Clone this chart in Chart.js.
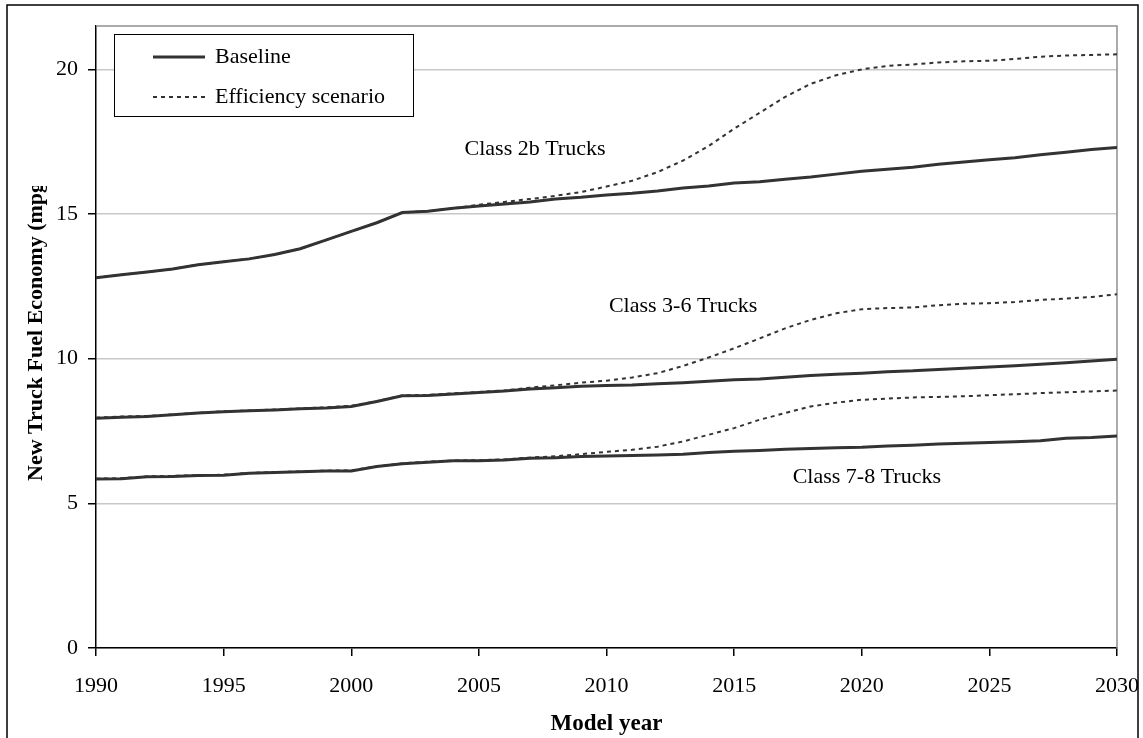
<!DOCTYPE html>
<html>
<head>
<meta charset="utf-8">
<script src="https://cdn.jsdelivr.net/npm/chart.js"></script>
<style>
  html, body { margin: 0; padding: 0; background: #fff; }
  #wrap { width: 1143px; height: 738px; position: relative; }
</style>
</head>
<body>
<div id="wrap"><canvas id="fuel_chart" width="1143" height="738"></canvas></div>
<script>
// model years 1990..2030
let years = [];
for (let y = 1990; y <= 2030; y++) years.push(y);

let class2b_base = [12.8,12.9,13.0,13.1,13.25,13.35,13.45,13.6,13.8,14.1,14.4,14.7,15.05,15.1,15.2,15.28,15.35,15.42,15.52,15.58,15.66,15.72,15.8,15.9,15.97,16.07,16.12,16.2,16.28,16.38,16.48,16.55,16.62,16.72,16.8,16.88,16.95,17.05,17.14,17.23,17.3];
let class2b_eff = [12.8,12.9,13.0,13.1,13.25,13.35,13.45,13.6,13.8,14.1,14.4,14.7,15.05,15.1,15.2,15.32,15.42,15.52,15.63,15.76,15.95,16.15,16.45,16.85,17.35,17.95,18.5,19.05,19.5,19.8,20.0,20.12,20.17,20.24,20.28,20.3,20.36,20.44,20.48,20.5,20.52];
let class36_base = [7.94,7.98,8.0,8.06,8.12,8.17,8.2,8.23,8.27,8.3,8.35,8.52,8.72,8.73,8.78,8.83,8.88,8.95,9.0,9.05,9.07,9.09,9.13,9.17,9.22,9.27,9.3,9.36,9.42,9.46,9.5,9.55,9.58,9.63,9.67,9.71,9.76,9.81,9.86,9.92,9.98];
let class36_eff = [7.96,8.0,8.02,8.07,8.13,8.18,8.21,8.24,8.28,8.32,8.37,8.53,8.73,8.75,8.8,8.85,8.9,9.0,9.08,9.17,9.24,9.35,9.5,9.75,10.04,10.36,10.7,11.05,11.34,11.57,11.71,11.75,11.77,11.85,11.9,11.92,11.96,12.03,12.08,12.13,12.23];
let class78_base = [5.84,5.85,5.92,5.93,5.96,5.97,6.04,6.07,6.09,6.12,6.12,6.27,6.37,6.42,6.47,6.47,6.5,6.56,6.58,6.62,6.64,6.65,6.67,6.7,6.76,6.8,6.83,6.87,6.9,6.92,6.94,6.98,7.01,7.05,7.08,7.1,7.13,7.16,7.25,7.28,7.33];
let class78_eff = [5.85,5.87,5.93,5.95,5.97,5.99,6.05,6.08,6.1,6.13,6.14,6.28,6.38,6.44,6.48,6.49,6.52,6.58,6.63,6.7,6.78,6.85,6.96,7.14,7.37,7.6,7.89,8.12,8.35,8.48,8.58,8.62,8.66,8.68,8.7,8.74,8.77,8.81,8.84,8.87,8.9];

let x_ticks = [1990,1995,2000,2005,2010,2015,2020,2025,2030];
let y_ticks = [0,5,10,15,20];

let legend_names = ['Baseline','Efficiency scenario'];
let class_names = ['Class 2b Trucks','Class 3-6 Trucks','Class 7-8 Trucks'];
let class_label_year = [2007.2, 2013.0, 2020.2];
let class_label_value = [17.25, 11.82, 5.92];

const x_title = 'Model year';
const y_title = 'New Truck Fuel Economy (mpg)';

const LINE_COLOR = '#333333';
const FONT = '"Liberation Serif", "Times New Roman", serif';

function to_points(vals){
    let pts = [];
    for (let i = 0; i < years.length; i++) pts.push({x: years[i], y: vals[i]});
    return pts;
}

function solid(vals){
    return {label: legend_names[0], data: to_points(vals), borderColor: LINE_COLOR,
        borderWidth: 3, pointRadius: 0, tension: 0, fill: false, order: 1};
}
function dotted(vals){
    return {label: legend_names[1], data: to_points(vals), borderColor: LINE_COLOR,
        borderWidth: 2, borderDash: [4,4], pointRadius: 0, tension: 0, fill: false, order: 0};
}

// frame around the whole picture, grey top/right plot border
const framePlugin = {
    id: 'frame',
    beforeDatasetsDraw(chart){
        const ctx = chart.ctx, a = chart.chartArea;
        ctx.save();
        ctx.strokeStyle = '#909090';
        ctx.lineWidth = 1.5;
        ctx.beginPath();
        ctx.moveTo(a.left, a.top);
        ctx.lineTo(a.right, a.top);
        ctx.lineTo(a.right, a.bottom);
        ctx.stroke();
        ctx.restore();
    },
    afterDraw(chart){
        const ctx = chart.ctx;
        ctx.save();
        ctx.strokeStyle = '#000';
        ctx.lineWidth = 1.5;
        ctx.strokeRect(7, 5, 1131, 740);
        ctx.restore();
    }
};

// boxed legend inside plot, class labels, clipped y title
const notesPlugin = {
    id: 'notes',
    afterDraw(chart){
        const ctx = chart.ctx;
        const xs = chart.scales.x, ys = chart.scales.y;
        ctx.save();

        // legend box
        ctx.fillStyle = '#fff';
        ctx.fillRect(114, 34, 299, 82);
        ctx.strokeStyle = '#000';
        ctx.lineWidth = 1;
        ctx.strokeRect(114.5, 34.5, 299, 82);

        ctx.strokeStyle = LINE_COLOR;
        ctx.lineWidth = 3;
        ctx.beginPath(); ctx.moveTo(153, 57); ctx.lineTo(205, 57); ctx.stroke();
        ctx.lineWidth = 2;
        ctx.setLineDash([4,4]);
        ctx.beginPath(); ctx.moveTo(153, 97); ctx.lineTo(207, 97); ctx.stroke();
        ctx.setLineDash([]);

        ctx.fillStyle = '#000';
        ctx.font = '22px ' + FONT;
        ctx.textAlign = 'left';
        ctx.textBaseline = 'middle';
        ctx.fillText(legend_names[0], 215, 57);
        ctx.fillText(legend_names[1], 215, 97);

        // class labels
        ctx.textAlign = 'center';
        for (let i = 0; i < class_names.length; i++){
            ctx.fillText(class_names[i], xs.getPixelForValue(class_label_year[i]), ys.getPixelForValue(class_label_value[i]));
        }

        // y title, cut off at the top like the original
        ctx.beginPath();
        ctx.rect(0, 186, 90, 552);
        ctx.clip();
        ctx.translate(36, 481);
        ctx.rotate(-Math.PI / 2);
        ctx.font = 'bold 22px ' + FONT;
        ctx.textAlign = 'left';
        ctx.fillText(y_title, 0, 0);
        ctx.restore();
    }
};

const graph = document.getElementById('fuel_chart').getContext('2d');

new Chart(graph, {
    type: 'line',
    data: {
        datasets: [
            solid(class2b_base), dotted(class2b_eff),
            solid(class36_base), dotted(class36_eff),
            solid(class78_base), dotted(class78_eff)
        ]
    },
    options: {
        responsive: false,
        animation: false,
        layout: { padding: { top: 26, right: 26, left: 0, bottom: 0 } },
        plugins: { legend: { display: false }, tooltip: { enabled: false } },
        scales: {
            x: {
                type: 'linear',
                min: 1990,
                max: 2030,
                afterFit(scale){ scale.height = 90; scale.paddingLeft = 0; scale.paddingRight = 0; },
                afterBuildTicks(scale){ scale.ticks = x_ticks.map(v => ({value: v})); },
                grid: { drawOnChartArea: false, tickLength: 8, tickColor: '#000', lineWidth: 1.5 },
                border: { color: '#000', width: 1.5 },
                ticks: {
                    color: '#000',
                    padding: 17,
                    maxRotation: 0,
                    font: { family: FONT, size: 22 },
                    callback: v => String(v)
                },
                title: {
                    display: true,
                    text: x_title,
                    color: '#000',
                    padding: { top: 0, bottom: 0 },
                    font: { family: FONT, size: 23, weight: 'bold' }
                }
            },
            y: {
                min: 0,
                max: 21.5,
                afterFit(scale){ scale.width = 96; scale.paddingTop = 0; scale.paddingBottom = 0; },
                afterBuildTicks(scale){ scale.ticks = y_ticks.map(v => ({value: v})); },
                grid: { color: '#c8c8c8', lineWidth: 1.5, tickLength: 8, tickColor: '#000' },
                border: { color: '#000', width: 1.5 },
                ticks: {
                    color: '#000',
                    padding: 10,
                    font: { family: FONT, size: 22 },
                    callback: v => String(v)
                }
            }
        }
    },
    plugins: [framePlugin, notesPlugin]
});
</script>
</body>
</html>
